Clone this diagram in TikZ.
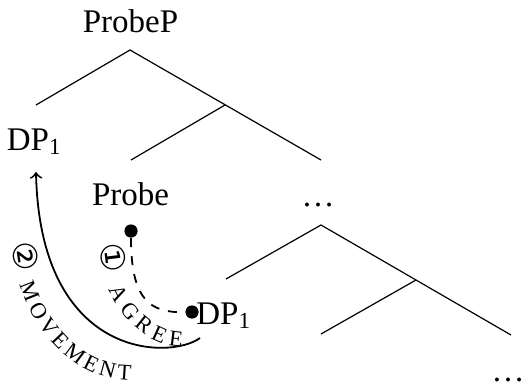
\documentclass[tikz,border=0pt]{standalone}
\usepackage{fontspec}
\setmainfont{Liberation Serif}
\newfontfamily\circfont{DejaVu Sans}
\usetikzlibrary{decorations.text}
\begin{document}
\begin{tikzpicture}[x=0.3333pt,y=-0.3333pt,
  lbl/.style={font=\fontsize{11}{13}\selectfont, anchor=base, inner sep=0pt},
  branch/.style={line width=0.4pt},
  dot/.style={circle, fill=black, inner sep=0pt, minimum size=4.4pt},
  conn/.style={line width=0.6pt},
  along/.style={decorate, decoration={text along path, text align={fit to path}, text={#1}}}]
\useasboundingbox (0,0) rectangle (522,385);
% labels
\node[lbl] (probep) at (130.5,32) {ProbeP};
\node[lbl] (dpu) at (34.5,150) {DP\textsubscript{1}};
\node[lbl] (probe) at (130.5,205) {Probe};
\node[lbl] (dotsu) at (318,206) {\ldots};
\node[lbl] (dpl) at (224,324) {DP\textsubscript{1}};
\node[lbl] (dotsl) at (508,381) {\ldots};
% tree points
\coordinate (r0) at (130,50);
\coordinate (r0l) at (36,105);
\coordinate (r0r) at (321,160);
\coordinate (r1) at (225,105);
\coordinate (r1l) at (131,160);
\coordinate (s0) at (321,225);
\coordinate (s0l) at (226,279);
\coordinate (s0r) at (511,335);
\coordinate (s1) at (416,280);
\coordinate (s1l) at (321,334);
\draw[branch] (r0l) -- (r0) -- (r0r);
\draw[branch] (r1) -- (r1l);
\draw[branch] (s0l) -- (s0) -- (s0r);
\draw[branch] (s1) -- (s1l);
% bullets
\node[dot] (pb) at (131,231) {};
\node[dot] (db) at (192,312) {};
% agree
\draw[conn, dashed] (pb) .. controls (131,300) and (150,313) .. (db);
% movement
\coordinate (mvstart) at (200,338);
\coordinate (mvend) at (36,172);
\draw[conn, ->] (mvstart) .. controls (170,360) and (40,360) .. (mvend);
% text along paths
\coordinate (ag0) at (100,244);
\coordinate (ag1) at (100,300);
\coordinate (ag2) at (140,347);
\coordinate (ag3) at (182,347);
\path[along={|\circfont\fontsize{11}{12}\selectfont|①|\rmfamily\fontsize{7.5}{8}\selectfont| AGREE}]
  (ag0) .. controls (ag1) and (ag2) .. (ag3);
\coordinate (mv0) at (12,243);
\coordinate (mv1) at (15,305);
\coordinate (mv2) at (60,380);
\coordinate (mv3) at (131,380);
\path[along={|\circfont\fontsize{11}{12}\selectfont|②|\rmfamily\fontsize{7.5}{8}\selectfont| MOVEMENT}]
  (mv0) .. controls (mv1) and (mv2) .. (mv3);
\end{tikzpicture}
\end{document}
